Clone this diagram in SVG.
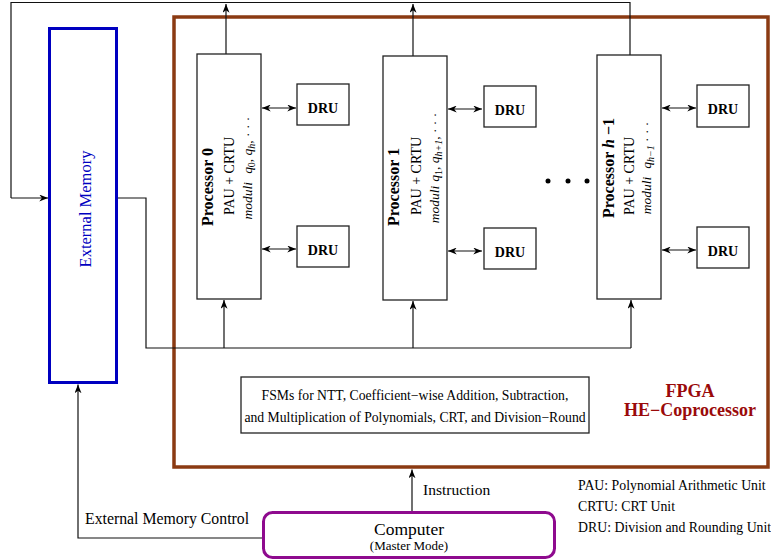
<svg xmlns="http://www.w3.org/2000/svg" width="771" height="560" viewBox="0 0 771 560" font-family="'Liberation Serif','Times New Roman',serif">
<style>
text{font-family:"Liberation Serif","Times New Roman",serif;fill:#000}
.box{fill:#fff;stroke:#222;stroke-width:1.3}
.ln{fill:none;stroke:#111;stroke-width:1.2}
.arr{fill:none;stroke:#111;stroke-width:1.2;marker-end:url(#ah)}
.bi{fill:none;stroke:#111;stroke-width:1.2;marker-start:url(#ah);marker-end:url(#ah)}
.dru{font-size:14px;font-weight:bold}
.pt{font-size:16px;font-weight:bold}
.pc{font-size:14px}
.md{font-size:13.5px;font-style:italic}
.sb{font-size:10px}
.lg{font-size:13.8px}
</style>
<defs>
<marker id="ah" viewBox="0 0 10 8" refX="10" refY="4" markerWidth="9" markerHeight="7" orient="auto-start-reverse" markerUnits="userSpaceOnUse">
<path d="M0,0 L10,4 L0,8 L3,4 z" fill="#000"/>
</marker>
</defs>
<rect width="771" height="560" fill="#fff"/>

<g id="fpga">
<rect x="174" y="17" width="594" height="450" fill="none" stroke="#8B3A12" stroke-width="3.5"/>
<text x="690" y="397" text-anchor="middle" font-size="18" font-weight="bold" style="fill:#9A0A0A">FPGA</text>
<text x="690" y="416" text-anchor="middle" font-size="18" font-weight="bold" style="fill:#9A0A0A">HE−Coprocessor</text>
</g>

<g id="external-memory">
<rect x="49.5" y="28.5" width="67" height="354" fill="#fff" stroke="#0000C0" stroke-width="3"/>
<text transform="translate(91,209) rotate(-90)" text-anchor="middle" font-size="16.5" style="fill:#0000C0">External Memory</text>
</g>

<g id="connectors">
<polyline class="ln" points="630,55 630,2.5 11,2.5 11,198"/>
<line class="arr" x1="11" y1="198" x2="48" y2="198"/>
<line class="arr" x1="226" y1="54" x2="226" y2="4"/>
<line class="arr" x1="413" y1="56" x2="413" y2="4"/>
<polyline class="ln" points="118,198 146,198 146,348 631,348"/>
<line class="arr" x1="224" y1="348" x2="224" y2="300"/>
<line class="arr" x1="413" y1="348" x2="413" y2="301"/>
<line class="arr" x1="631" y1="348" x2="631" y2="300"/>
<line class="bi" x1="262" y1="108" x2="296" y2="108"/>
<line class="bi" x1="262" y1="249" x2="296" y2="249"/>
<line class="bi" x1="448" y1="109" x2="482" y2="109"/>
<line class="bi" x1="448" y1="251" x2="482" y2="251"/>
<line class="bi" x1="662" y1="108" x2="696" y2="108"/>
<line class="bi" x1="662" y1="250" x2="696" y2="250"/>
<line class="arr" x1="412" y1="511" x2="412" y2="469.5"/>
<polyline class="ln" points="262,538 78,538 78,400"/>
<line class="arr" x1="78" y1="400" x2="78" y2="384.5"/>
</g>

<g id="processor-0">
<rect class="box" x="197" y="54" width="64" height="245"/>
<text class="pt" transform="translate(213,187) rotate(-90)" text-anchor="middle">Processor 0</text>
<text class="pc" transform="translate(234,176) rotate(-90)" text-anchor="middle">PAU + CRTU</text>
<text class="md" transform="translate(252,168) rotate(-90)" text-anchor="middle">moduli<tspan dx="8">q</tspan><tspan class="sb" font-style="normal" dy="3">0</tspan><tspan dy="-3">, q</tspan><tspan class="sb" dy="3">h</tspan><tspan font-style="normal" dy="-3">, · · ·</tspan></text>
</g>
<g id="dru-0a"><rect class="box" x="297" y="84" width="52" height="41"/><text class="dru" x="323" y="113" text-anchor="middle">DRU</text></g>
<g id="dru-0b"><rect class="box" x="297" y="226" width="52" height="41"/><text class="dru" x="323" y="254.5" text-anchor="middle">DRU</text></g>

<g id="processor-1">
<rect class="box" x="383" y="56" width="64" height="244"/>
<text class="pt" transform="translate(399,187) rotate(-90)" text-anchor="middle">Processor 1</text>
<text class="pc" transform="translate(421,176) rotate(-90)" text-anchor="middle">PAU + CRTU</text>
<text class="md" transform="translate(439,168) rotate(-90)" text-anchor="middle">moduli<tspan dx="4">q</tspan><tspan class="sb" font-style="normal" dy="3">1</tspan><tspan dy="-3">, q</tspan><tspan class="sb" dy="3">h+1</tspan><tspan font-style="normal" dy="-3">, · · ·</tspan></text>
</g>
<g id="dru-1a"><rect class="box" x="484" y="86" width="52" height="41"/><text class="dru" x="510" y="114.5" text-anchor="middle">DRU</text></g>
<g id="dru-1b"><rect class="box" x="484" y="228" width="52" height="41"/><text class="dru" x="510" y="256.5" text-anchor="middle">DRU</text></g>

<g id="dots">
<circle cx="548" cy="181" r="2.5" fill="#000"/>
<circle cx="568" cy="181" r="2.5" fill="#000"/>
<circle cx="587" cy="181" r="2.5" fill="#000"/>
</g>

<g id="processor-h-1">
<rect class="box" x="597" y="55" width="64" height="244"/>
<text class="pt" transform="translate(614,168) rotate(-90)" text-anchor="middle">Processor <tspan font-style="italic">h</tspan> −1</text>
<text class="pc" transform="translate(634,176) rotate(-90)" text-anchor="middle">PAU + CRTU</text>
<text class="md" transform="translate(651,168) rotate(-90)" text-anchor="middle">moduli<tspan dx="8">q</tspan><tspan class="sb" dy="3">h−1</tspan><tspan font-style="normal" dy="-3"> · · ·</tspan></text>
</g>
<g id="dru-h1a"><rect class="box" x="697" y="85" width="52" height="42"/><text class="dru" x="723" y="113.5" text-anchor="middle">DRU</text></g>
<g id="dru-h1b"><rect class="box" x="697" y="227" width="52" height="41"/><text class="dru" x="723" y="255.5" text-anchor="middle">DRU</text></g>

<g id="fsm">
<rect class="box" x="241" y="377" width="348" height="56"/>
<text x="415" y="400" text-anchor="middle" font-size="13.7">FSMs for NTT, Coefficient−wise Addition, Subtraction,</text>
<text x="415" y="422" text-anchor="middle" font-size="13.7">and Multiplication of Polynomials, CRT, and Division−Round</text>
</g>

<g id="computer">
<rect x="263.5" y="512.5" width="291" height="45" rx="9" fill="#fff" stroke="#8E0A8E" stroke-width="3"/>
<text x="409" y="535" text-anchor="middle" font-size="17.5">Computer</text>
<text x="409" y="550" text-anchor="middle" font-size="13">(Master Mode)</text>
</g>

<g id="labels">
<text x="423" y="495" font-size="15.5">Instruction</text>
<text x="85" y="524" font-size="15.8">External Memory Control</text>
<text class="lg" x="578" y="490">PAU: Polynomial Arithmetic Unit</text>
<text class="lg" x="578" y="511">CRTU: CRT Unit</text>
<text class="lg" x="578" y="532">DRU: Division and Rounding Unit</text>
</g>
</svg>
